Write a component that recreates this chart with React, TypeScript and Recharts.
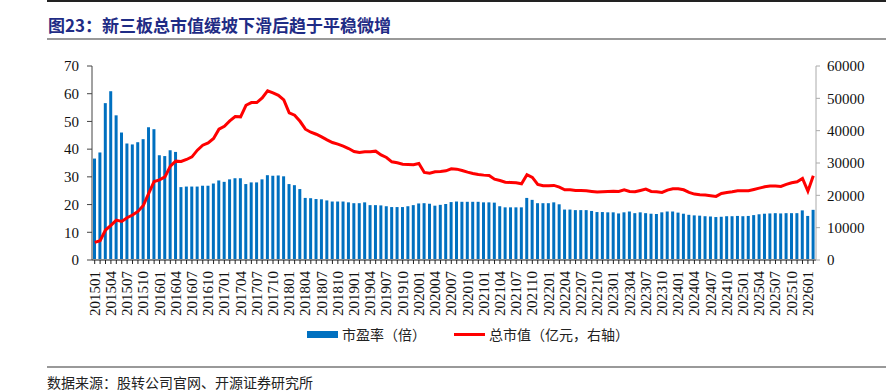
import {
  ComposedChart,
  Bar,
  Line,
  XAxis,
  YAxis,
} from "recharts";

// 市盈率（倍），2015-01 起逐月
const peRatio = [
  36.6, 38.8, 56.6, 60.9, 52.2, 46.0, 42.0, 41.7, 42.5, 43.6, 47.9, 47.2,
  37.8, 37.5, 39.6, 39.0, 26.3, 26.5, 26.5, 26.5, 26.8, 26.8, 27.6, 28.7,
  28.2, 29.1, 29.5, 29.5, 27.4, 28.0, 28.0, 29.1, 30.6, 30.4, 30.5, 30.2,
  27.4, 27.0, 25.6, 22.4, 22.3, 22.0, 21.9, 21.5, 21.1, 21.1, 21.1, 20.8,
  20.5, 20.5, 20.8, 19.8, 19.8, 19.7, 19.4, 19.1, 19.1, 19.1, 19.4, 19.8,
  20.4, 20.5, 20.3, 19.6, 19.9, 20.2, 20.9, 21.1, 21.0, 21.0, 21.0, 21.0,
  20.8, 20.8, 20.7, 19.4, 19.0, 19.0, 19.0, 19.0, 22.4, 21.7, 20.5, 20.5,
  20.5, 20.8, 20.1, 18.2, 18.2, 18.0, 18.0, 18.0, 17.7, 17.3, 17.3, 17.2,
  17.2, 16.8, 17.2, 17.5, 16.9, 17.2, 16.9, 16.7, 16.6, 17.2, 17.5, 17.5,
  17.1, 16.7, 16.3, 16.1, 16.0, 15.8, 15.7, 15.5, 15.6, 15.8, 15.8, 15.9,
  15.8, 15.9, 16.2, 16.5, 16.7, 16.8, 16.9, 16.8, 16.9, 16.9, 16.9, 17.9,
  15.9, 18.1,
];

// 总市值（亿元）
const marketValue = [
  5460, 5970, 9260, 10700, 12350, 11940, 13070, 13900, 15030, 16880, 20590, 24290,
  24800, 25730, 29030, 30570, 30470, 31090, 31900, 33970, 35510, 36230, 37580, 40450,
  41380, 43020, 44370, 44270, 47860, 48690, 48690, 50120, 52300, 51660, 50950, 49500,
  45500, 44800, 42900, 40450, 39520, 38900, 38080, 37150, 36330, 35820, 35200, 34480,
  33560, 33250, 33450, 33450, 33660, 32500, 31710, 30360, 30060, 29640, 29540, 29440,
  29850, 27070, 26860, 27270, 27380, 27580, 28200, 28100, 27690, 27170, 26760, 26460,
  26250, 26150, 25010, 24600, 24080, 23980, 23870, 23570, 26400, 25530, 23370, 22950,
  22950, 23060, 22540, 21710, 21710, 21510, 21510, 21410, 21200, 21000, 21100, 21200,
  21300, 21200, 21710, 21200, 21100, 21510, 21920, 21200, 21100, 20900, 21620, 22020,
  22020, 21710, 20900, 20380, 20170, 20070, 19860, 19660, 20590, 20900, 21100, 21410,
  21410, 21410, 21820, 22230, 22640, 22850, 22850, 22750, 23370, 23880, 24190, 25220,
  21300, 26040,
];

const leftTicks = [0, 10, 20, 30, 40, 50, 60, 70];
const rightTicks = [0, 10000, 20000, 30000, 40000, 50000, 60000];

const months = peRatio.map((_, i) => {
  const y = 2015 + Math.floor(i / 12);
  const m = (i % 12) + 1;
  return `${y}${m < 10 ? "0" + m : m}`;
});

const data = months.map((month, i) => ({
  month,
  pe: peRatio[i],
  mv: marketValue[i],
}));

const serif = "'Times New Roman', 'Liberation Serif', serif";
const cjk = "'Noto Sans CJK SC', 'Noto Sans', sans-serif";

function MonthTick(props: any) {
  const { x, y, payload, index } = props;
  const idx = index ?? payload.index;
  if (idx % 3 !== 0) return null;
  return (
    <text
      x={x}
      y={y}
      transform={`rotate(-90, ${x}, ${y})`}
      dx={-5}
      dy={5}
      textAnchor="end"
      fontFamily={serif}
      fontSize={15}
      fill="#111"
    >
      {payload.value}
    </text>
  );
}

export default function App() {
  return (
    <div
      style={{
        position: "absolute",
        left: 0,
        top: 0,
        width: 886,
        height: 392,
        background: "#fff",
        overflow: "hidden",
      }}
    >
      <div
        style={{
          position: "absolute",
          left: 47,
          right: 0,
          top: 0,
          height: 2,
          background: "#222",
        }}
      />
      <div
        style={{
          position: "absolute",
          left: 48,
          top: 12,
          fontFamily: cjk,
          fontWeight: 700,
          fontSize: 17,
          color: "#1f2c85",
          whiteSpace: "nowrap",
        }}
      >
        图23：新三板总市值缓坡下滑后趋于平稳微增
      </div>
      <div
        style={{
          position: "absolute",
          left: 47,
          right: 0,
          top: 38,
          height: 2,
          background: "#999",
        }}
      />

      <div style={{ position: "absolute", left: 0, top: 0 }}>
        <ComposedChart
          width={886}
          height={345}
          data={data}
          margin={{ top: 66, right: 10, bottom: 25, left: 52 }}
        >
          <XAxis
            dataKey="month"
            interval={0}
            tick={<MonthTick />}
            tickSize={4}
            tickLine={{ stroke: "#222" }}
            axisLine={{ stroke: "#888", strokeWidth: 2 }}
            height={60}
          />
          <YAxis
            yAxisId="left"
            domain={[0, 70]}
            ticks={leftTicks}
            width={40}
            tickSize={5}
            tickMargin={8}
            axisLine={{ stroke: "#444" }}
            tickLine={{ stroke: "#444" }}
            tick={{ fontFamily: serif, fontSize: 15, fill: "#111" }}
          />
          <YAxis
            yAxisId="right"
            orientation="right"
            domain={[0, 60000]}
            ticks={rightTicks}
            width={60}
            tickSize={4}
            tickMargin={7}
            axisLine={{ stroke: "#aaa" }}
            tickLine={{ stroke: "#aaa" }}
            tick={{ fontFamily: serif, fontSize: 15, fill: "#111" }}
          />
          <Bar
            yAxisId="left"
            dataKey="pe"
            fill="#0070C0"
            barSize={3}
            isAnimationActive={false}
          />
          <Line
            yAxisId="right"
            dataKey="mv"
            type="linear"
            stroke="#FF0000"
            strokeWidth={3}
            dot={false}
            isAnimationActive={false}
          />
        </ComposedChart>
      </div>

      <div
        style={{
          position: "absolute",
          left: 307,
          top: 324,
          display: "flex",
          alignItems: "center",
          fontFamily: cjk,
          fontSize: 14,
          color: "#222",
          whiteSpace: "nowrap",
        }}
      >
        <span
          style={{
            display: "inline-block",
            width: 31,
            height: 7,
            background: "#0070C0",
            marginRight: 4,
          }}
        />
        <span>市盈率（倍）</span>
        <span
          style={{
            display: "inline-block",
            width: 31,
            height: 3,
            background: "#FF0000",
            marginLeft: 28,
            marginRight: 4,
          }}
        />
        <span>总市值（亿元，右轴）</span>
      </div>

      <div
        style={{
          position: "absolute",
          left: 47,
          right: 0,
          top: 366,
          height: 2,
          background: "#999",
        }}
      />
      <div
        style={{
          position: "absolute",
          left: 47,
          top: 372,
          fontFamily: cjk,
          fontSize: 14,
          color: "#222",
          whiteSpace: "nowrap",
        }}
      >
        数据来源：股转公司官网、开源证券研究所
      </div>
    </div>
  );
}
